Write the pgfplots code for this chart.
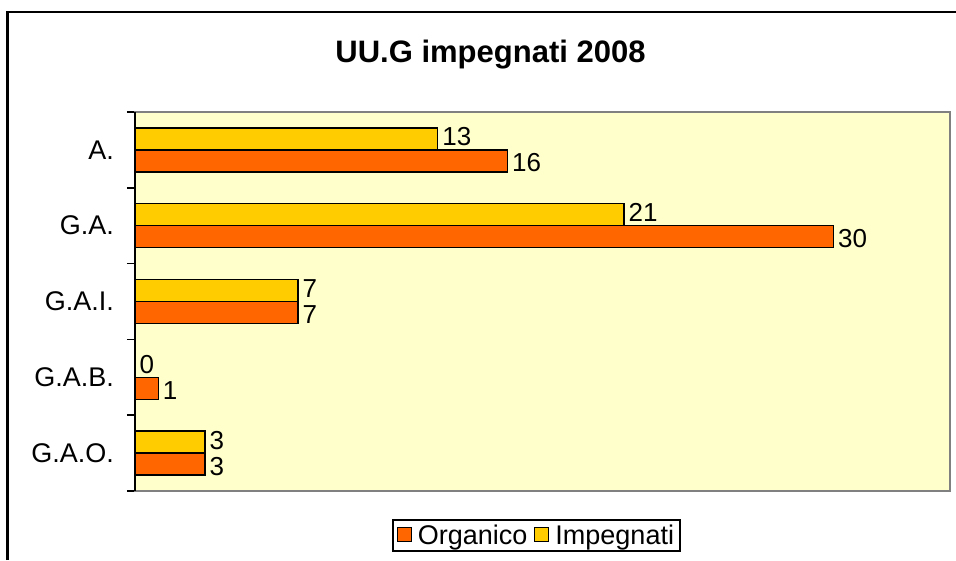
\documentclass[border=0pt]{standalone}
\usepackage{pgfplots}
\pgfplotsset{compat=1.18}
\usepackage{fontspec}
\setmainfont{Liberation Sans}
\definecolor{org}{HTML}{FF6600}
\definecolor{imp}{HTML}{FFCC00}
\definecolor{bg}{HTML}{FFFFCC}
\begin{document}
\begin{tikzpicture}[x=1pt,y=1pt]
\useasboundingbox (0,0) rectangle (956,560);
\draw[line width=2.5pt] (7.5,0) -- (7.5,548) -- (956,548);
\node[font=\fontsize{31}{37}\selectfont\bfseries] at (490.5,505) {UU.G impegnati 2008};
\begin{axis}[at={(135pt,69pt)}, anchor=south west, scale only axis, width=815pt, height=379pt,
 /pgf/number format/assume math mode=true,
 xbar, bar width=22pt, xmin=0, xmax=35, ymin=-0.5, ymax=4.5,
 xtick=\empty, ytick={0,1,2,3,4}, yticklabels={G.A.O.,G.A.B.,G.A.I.,G.A.,A.},
 minor ytick={-0.5,0.5,1.5,2.5,3.5,4.5}, major tick length=0pt, minor tick length=8pt, tick align=outside, ytick pos=left,
 axis background/.style={fill=bg}, axis line style={gray, line width=1.2pt},
 minor tick style={black, line width=1.5pt},
 ticklabel style={font=\fontsize{27}{32}\selectfont},
 yticklabel style={anchor=east, inner sep=0pt, xshift=-21pt},
 nodes near coords, nodes near coords style={font=\fontsize{26}{31}\selectfont, black, anchor=west, inner xsep=4pt, inner ysep=0pt},
 every axis plot/.append style={draw=black, line width=1.3pt},
 legend style={at={(0.4926,-0.1174)}, anchor=center, legend columns=2, draw=black, line width=1.2pt,
   font=\fontsize{27}{32}\selectfont, inner xsep=4pt, inner ysep=3pt,
   /tikz/every odd column/.append style={column sep=4pt},
   /tikz/every even column/.append style={column sep=5pt}},
 legend image code/.code={\draw[#1, line width=1pt] (0pt,-6pt) rectangle (14pt,8pt);}
]
\addplot[fill=org, bar shift=-11pt, nodes near coords style={yshift=-2pt}] coordinates {(3,0) (1,1) (7,2) (30,3) (16,4)};
\addplot[fill=imp, bar shift=11pt, nodes near coords style={yshift=2pt}] coordinates {(3,0) (0,1) (7,2) (21,3) (13,4)};
\legend{Organico, Impegnati}
\end{axis}
\draw[black, line width=1.5pt] (135,69) -- (135,448);
\end{tikzpicture}
\end{document}
